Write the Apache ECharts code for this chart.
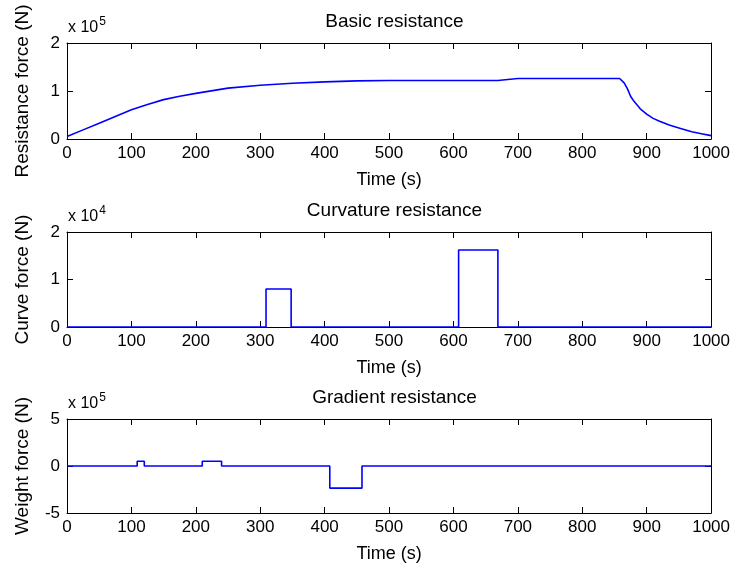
<!DOCTYPE html>
<html>
<head>
<meta charset="utf-8">
<script src="https://cdn.jsdelivr.net/npm/echarts@6/dist/echarts.min.js"></script>
<style>
html,body{margin:0;padding:0;background:#fff;}
#chart{width:733px;height:568px;}
</style>
</head>
<body>
<div id="chart"></div>
<script>
// ---- Data ----
// Basic resistance, force in units of 1e5 N
const basicT = [0, 25, 50, 75, 100, 125, 150, 175, 200, 250, 300, 350, 400, 450, 500, 550, 600, 669, 669, 700, 750, 800, 858, 865, 870, 875, 880, 890, 900, 910, 920, 935, 950, 970, 985, 1000];
const basicF = [0.05, 0.19, 0.33, 0.47, 0.61, 0.72, 0.82, 0.89, 0.95, 1.06, 1.12, 1.16, 1.19, 1.21, 1.22, 1.22, 1.22, 1.22, 1.26, 1.26, 1.26, 1.26, 1.26, 1.17, 1.05, 0.89, 0.79, 0.63, 0.52, 0.43, 0.37, 0.29, 0.23, 0.15, 0.11, 0.07];
// Curvature resistance, force in units of 1e4 N
const curveT = [0, 309, 309, 348, 348, 608, 608, 669, 669, 1000];
const curveF = [0, 0, 0.8, 0.8, 0, 0, 1.62, 1.62, 0, 0];
// Gradient resistance, force in units of 1e5 N
const gradT = [0, 109, 109, 120, 120, 210, 210, 240, 240, 408, 408, 458, 458, 1000];
const gradF = [0, 0, 0.5, 0.5, 0, 0, 0.5, 0.5, 0, 0, -2.35, -2.35, 0, 0];

const titles = ['Basic resistance', 'Curvature resistance', 'Gradient resistance'];
const yNames = ['Resistance force (N)', 'Curve force (N)', 'Weight force (N)'];
const xName = 'Time (s)';
const exponents = ['5', '4', '5'];
const yRanges = [[0, 2, 1], [0, 2, 1], [-5, 5, 5]];
const xRange = [0, 1000, 100];

// ---- Layout / style ----
const FONT = 'Liberation Sans, Arial, Helvetica, sans-serif';
const grids = [
  {left: 67, right: 21, top: 43, height: 96},
  {left: 67, right: 21, top: 232, height: 95},
  {left: 67, right: 21, top: 419, height: 94}
];
const axisLine = {show: true, onZero: false, lineStyle: {color: '#000', width: 1}};
const tickIn = {show: true, inside: true, length: 6, lineStyle: {color: '#000', width: 1}};

const series = [[basicT, basicF], [curveT, curveF], [gradT, gradF]];

const xAxes = [], yAxes = [], seriesList = [], titleList = [], graphics = [];
grids.forEach((g, i) => {
  xAxes.push({
    type: 'value', gridIndex: i, min: xRange[0], max: xRange[1], interval: xRange[2],
    position: 'bottom',
    axisLine: axisLine, axisTick: tickIn, splitLine: {show: false},
    axisLabel: {color: '#000', fontFamily: FONT, fontSize: 17, margin: 6,
      showMaxLabel: true, showMinLabel: true, formatter: v => String(v)},
    name: xName, nameLocation: 'middle', nameGap: 32,
    nameTextStyle: {color: '#000', fontFamily: FONT, fontSize: 18}
  });
  xAxes.push({
    type: 'value', gridIndex: i, min: xRange[0], max: xRange[1], interval: xRange[2],
    position: 'top',
    axisLine: axisLine, axisTick: tickIn, splitLine: {show: false}, axisLabel: {show: false}
  });
  const yr = yRanges[i];
  yAxes.push({
    type: 'value', gridIndex: i, min: yr[0], max: yr[1], interval: yr[2],
    position: 'left',
    axisLine: axisLine, axisTick: tickIn, splitLine: {show: false},
    axisLabel: {color: '#000', fontFamily: FONT, fontSize: 17, margin: 7},
    name: yNames[i], nameLocation: 'middle', nameGap: 35, nameRotate: 90,
    nameTextStyle: {color: '#000', fontFamily: FONT, fontSize: 19}
  });
  yAxes.push({
    type: 'value', gridIndex: i, min: yr[0], max: yr[1], interval: yr[2],
    position: 'right',
    axisLine: axisLine, axisTick: tickIn, splitLine: {show: false}, axisLabel: {show: false}
  });
  const [t, f] = series[i];
  seriesList.push({
    type: 'line', xAxisIndex: 2 * i, yAxisIndex: 2 * i,
    data: t.map((v, k) => [v, f[k]]),
    showSymbol: false, symbol: 'none', animation: false,
    lineStyle: {color: '#0000ff', width: 1.6}
  });
  titleList.push({
    text: titles[i], left: 67 + 645 / 2, top: g.top - 36, textAlign: 'center',
    textStyle: {color: '#000', fontFamily: FONT, fontSize: 19, fontWeight: 'normal'}
  });
  graphics.push({
    type: 'text', left: 68, top: g.top - 27,
    style: {
      text: '{b|x 10}{s|' + exponents[i] + '}',
      rich: {
        b: {fontFamily: FONT, fontSize: 16, fill: '#000', verticalAlign: 'bottom'},
        s: {fontFamily: FONT, fontSize: 12, fill: '#000', verticalAlign: 'top', padding: [0, 0, 8, 1]}
      }
    }
  });
});

const chart = echarts.init(document.getElementById('chart'), null, {renderer: 'canvas'});
chart.setOption({
  backgroundColor: '#fff',
  animation: false,
  title: titleList,
  grid: grids,
  xAxis: xAxes,
  yAxis: yAxes,
  series: seriesList,
  graphic: graphics
});
</script>
</body>
</html>
